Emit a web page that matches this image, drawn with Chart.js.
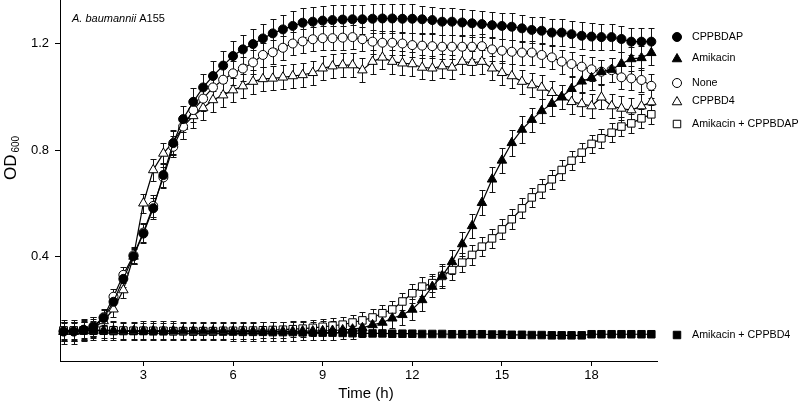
<!DOCTYPE html>
<html>
<head>
<meta charset="utf-8">
<script src="https://cdn.jsdelivr.net/npm/chart.js@4/dist/chart.umd.min.js"></script>
<style>
  html, body { margin: 0; padding: 0; background: #fff; }
</style>
</head>
<body>
<canvas id="chart" width="800" height="403"></canvas>
<script>
// sampling times (h), every 20 min
const time = [0.33,0.67,1,1.33,1.67,2,2.33,2.67,3,3.33,3.67,4,4.33,4.67,5,5.33,5.67,6,6.33,6.67,
  7,7.33,7.67,8,8.33,8.67,9,9.33,9.67,10,10.33,10.67,11,11.33,11.67,12,12.33,12.67,13,13.33,
  13.67,14,14.33,14.67,15,15.33,15.67,16,16.33,16.67,17,17.33,17.67,18,18.33,18.67,19,19.33,19.67,20];

const xTicks = [3, 6, 9, 12, 15, 18];
const yTicks = [0.4, 0.8, 1.2];

const cppbdap = [0.118,0.118,0.124,0.136,0.169,0.230,0.316,0.401,0.486,0.581,
  0.706,0.826,0.916,0.981,1.035,1.078,1.117,1.153,1.178,1.198,
  1.219,1.238,1.253,1.266,1.278,1.282,1.286,1.288,1.290,1.291,
  1.291,1.293,1.294,1.294,1.293,1.293,1.291,1.288,1.282,1.282,
  1.279,1.276,1.273,1.269,1.266,1.263,1.257,1.251,1.248,1.241,
  1.241,1.235,1.229,1.226,1.224,1.224,1.217,1.207,1.207,1.207];
const cppbdapErr = [0.045,0.045,0.040,0.035,0.030,0.030,0.030,0.030,0.035,0.040,
  0.045,0.045,0.050,0.050,0.050,0.055,0.055,0.055,0.055,0.055,
  0.055,0.055,0.055,0.055,0.055,0.055,0.055,0.055,0.055,0.055,
  0.055,0.055,0.055,0.055,0.055,0.055,0.050,0.050,0.050,0.050,
  0.050,0.050,0.050,0.050,0.050,0.050,0.050,0.050,0.050,0.050,
  0.050,0.050,0.050,0.050,0.050,0.050,0.050,0.050,0.050,0.050];

const amikacin = [0.118,0.118,0.120,0.122,0.122,0.122,0.120,0.120,0.121,0.121,
  0.121,0.121,0.120,0.120,0.120,0.120,0.120,0.119,0.119,0.119,
  0.119,0.119,0.119,0.119,0.120,0.120,0.121,0.122,0.124,0.127,
  0.132,0.143,0.152,0.168,0.181,0.201,0.237,0.287,0.327,0.380,
  0.447,0.515,0.602,0.690,0.761,0.827,0.877,0.914,0.947,0.974,
  1.000,1.030,1.058,1.071,1.094,1.102,1.124,1.142,1.146,1.165];
const amikacinErr = [0.035,0.035,0.035,0.035,0.035,0.035,0.035,0.035,0.035,0.035,
  0.035,0.035,0.035,0.035,0.035,0.035,0.035,0.035,0.035,0.035,
  0.035,0.035,0.035,0.035,0.035,0.035,0.035,0.035,0.035,0.035,
  0.035,0.035,0.035,0.035,0.040,0.040,0.040,0.040,0.045,0.045,
  0.045,0.045,0.048,0.048,0.048,0.050,0.050,0.045,0.045,0.045,
  0.045,0.045,0.045,0.045,0.045,0.045,0.045,0.045,0.045,0.045];

const none = [0.120,0.120,0.125,0.138,0.172,0.249,0.331,0.405,0.490,0.590,
  0.697,0.812,0.888,0.950,0.993,1.035,1.064,1.088,1.106,1.129,
  1.157,1.167,1.184,1.200,1.208,1.216,1.220,1.220,1.222,1.224,
  1.216,1.207,1.203,1.203,1.200,1.194,1.192,1.190,1.188,1.188,
  1.188,1.188,1.190,1.178,1.173,1.169,1.166,1.166,1.157,1.148,
  1.132,1.123,1.113,1.103,1.094,1.100,1.073,1.069,1.063,1.041];
const noneErr = [0.035,0.035,0.035,0.035,0.030,0.030,0.030,0.030,0.035,0.040,
  0.040,0.040,0.045,0.045,0.045,0.045,0.045,0.045,0.045,0.045,
  0.045,0.045,0.045,0.045,0.045,0.045,0.045,0.045,0.045,0.045,
  0.045,0.045,0.045,0.045,0.045,0.045,0.045,0.045,0.045,0.045,
  0.045,0.045,0.045,0.045,0.045,0.045,0.045,0.045,0.045,0.045,
  0.045,0.045,0.045,0.045,0.045,0.045,0.045,0.045,0.045,0.045];

const cppbd4 = [0.118,0.118,0.122,0.132,0.158,0.202,0.274,0.400,0.600,0.725,
  0.787,0.830,0.888,0.928,0.958,0.988,1.006,1.025,1.040,1.057,
  1.067,1.069,1.073,1.078,1.082,1.090,1.107,1.115,1.119,1.119,
  1.100,1.132,1.148,1.132,1.126,1.123,1.110,1.107,1.115,1.110,
  1.132,1.128,1.132,1.107,1.090,1.078,1.057,1.044,1.035,1.015,
  0.998,0.981,0.973,0.965,0.998,0.965,0.956,0.950,0.965,0.980];
const cppbd4Err = [0.035,0.035,0.035,0.035,0.030,0.030,0.030,0.030,0.035,0.040,
  0.040,0.045,0.045,0.045,0.045,0.045,0.045,0.045,0.045,0.045,
  0.045,0.045,0.045,0.045,0.045,0.045,0.045,0.045,0.045,0.045,
  0.045,0.045,0.045,0.045,0.045,0.045,0.045,0.045,0.045,0.045,
  0.045,0.045,0.045,0.045,0.045,0.045,0.045,0.045,0.045,0.045,
  0.045,0.045,0.045,0.045,0.045,0.045,0.045,0.045,0.045,0.045];

const amikCppbdap = [0.122,0.122,0.123,0.124,0.124,0.123,0.122,0.121,0.121,0.121,
  0.121,0.120,0.120,0.120,0.120,0.120,0.121,0.121,0.122,0.122,
  0.123,0.124,0.125,0.127,0.129,0.132,0.136,0.140,0.144,0.152,
  0.160,0.171,0.187,0.201,0.231,0.262,0.287,0.300,0.327,0.349,
  0.377,0.406,0.437,0.468,0.502,0.540,0.581,0.622,0.656,0.690,
  0.725,0.760,0.790,0.823,0.844,0.865,0.888,0.900,0.919,0.934];
const amikCppbdapErr = [0.030,0.030,0.030,0.030,0.030,0.030,0.030,0.030,0.030,0.030,
  0.030,0.030,0.030,0.030,0.030,0.030,0.030,0.030,0.030,0.030,
  0.030,0.030,0.030,0.030,0.030,0.030,0.030,0.030,0.030,0.030,
  0.030,0.030,0.030,0.032,0.032,0.035,0.035,0.035,0.037,0.037,
  0.037,0.037,0.037,0.037,0.037,0.037,0.037,0.037,0.036,0.036,
  0.036,0.036,0.035,0.035,0.035,0.035,0.035,0.035,0.035,0.035];

const amikCppbd4 = [0.122,0.122,0.122,0.121,0.121,0.120,0.120,0.120,0.120,0.119,
  0.119,0.119,0.119,0.118,0.118,0.118,0.118,0.118,0.117,0.117,
  0.117,0.116,0.116,0.116,0.115,0.115,0.114,0.114,0.113,0.112,
  0.111,0.111,0.111,0.110,0.110,0.110,0.109,0.109,0.109,0.108,
  0.108,0.108,0.108,0.107,0.107,0.106,0.106,0.105,0.105,0.104,
  0.104,0.104,0.104,0.108,0.108,0.108,0.108,0.108,0.108,0.108];
const amikCppbd4Err = [0.004,0.004,0.004,0.004,0.004,0.004,0.004,0.004,0.004,0.004,
  0.004,0.004,0.004,0.004,0.004,0.004,0.004,0.004,0.004,0.004,
  0.004,0.004,0.004,0.004,0.004,0.004,0.004,0.004,0.004,0.004,
  0.004,0.004,0.004,0.004,0.004,0.004,0.004,0.004,0.004,0.004,
  0.004,0.004,0.004,0.004,0.004,0.004,0.004,0.004,0.004,0.004,
  0.004,0.004,0.004,0.004,0.004,0.004,0.004,0.004,0.004,0.004];

// label y positions (px) of the right-hand key, next to each curve end
const series = [
  { label: 'CPPBDAP', values: cppbdap, err: cppbdapErr, style: 'circle', filled: true, r: 4.5, keyY: 37 },
  { label: 'Amikacin', values: amikacin, err: amikacinErr, style: 'triangle', filled: true, r: 5.5, keyY: 58 },
  { label: 'None', values: none, err: noneErr, style: 'circle', filled: false, r: 4.5, keyY: 83 },
  { label: 'CPPBD4', values: cppbd4, err: cppbd4Err, style: 'triangle', filled: false, r: 5.5, keyY: 101 },
  { label: 'Amikacin + CPPBDAP', values: amikCppbdap, err: amikCppbdapErr, style: 'rect', filled: false, r: 5.3, keyY: 124 },
  { label: 'Amikacin + CPPBD4', values: amikCppbd4, err: amikCppbd4Err, style: 'rect', filled: true, r: 5.3, keyY: 335 }
];

const FONT = 'Liberation Sans, Arial, sans-serif';

const errorBars = {
  id: 'errorBars',
  beforeDatasetsDraw(chart) {
    const { ctx, scales: { x, y } } = chart;
    ctx.save();
    ctx.strokeStyle = '#111';
    ctx.lineWidth = 1;
    series.forEach(s => {
      s.values.forEach((v, i) => {
        const px = Math.round(x.getPixelForValue(time[i])) + 0.5;
        const top = Math.round(y.getPixelForValue(v + s.err[i])) + 0.5;
        const bot = Math.round(y.getPixelForValue(v - s.err[i])) + 0.5;
        ctx.beginPath();
        ctx.moveTo(px, top); ctx.lineTo(px, bot);
        ctx.moveTo(px - 3, top); ctx.lineTo(px + 3, top);
        ctx.moveTo(px - 3, bot); ctx.lineTo(px + 3, bot);
        ctx.stroke();
      });
    });
    ctx.restore();
  }
};

const labels = {
  id: 'labels',
  afterDraw(chart) {
    const { ctx } = chart;
    ctx.save();
    ctx.fillStyle = '#000';
    ctx.textBaseline = 'alphabetic';

    // panel title
    ctx.font = 'italic 11px ' + FONT;
    ctx.fillText('A. baumannii', 72, 22);
    const w = ctx.measureText('A. baumannii ').width;
    ctx.font = '11px ' + FONT;
    ctx.fillText('A155', 72 + w, 22);

    // x title
    ctx.font = '15px ' + FONT;
    ctx.textAlign = 'center';
    ctx.fillText('Time (h)', 366, 398);

    // y title with subscript
    ctx.save();
    ctx.translate(16, 180);
    ctx.rotate(-Math.PI / 2);
    ctx.textAlign = 'left';
    ctx.font = '17px ' + FONT;
    ctx.fillText('OD', 0, 0);
    const odW = ctx.measureText('OD').width;
    ctx.font = '10px ' + FONT;
    ctx.fillText('600', odW + 2, 3);
    ctx.restore();

    // key
    ctx.textAlign = 'left';
    ctx.textBaseline = 'middle';
    ctx.font = '10.7px ' + FONT;
    series.forEach(s => {
      ctx.fillStyle = s.filled ? '#000' : '#fff';
      ctx.strokeStyle = '#000';
      ctx.lineWidth = 1;
      Chart.helpers.drawPoint(ctx, { pointStyle: s.style, radius: s.r, rotation: 0, borderWidth: 1 }, 677, s.keyY + (s.style === 'triangle' ? 1 : 0));
      ctx.fillStyle = '#000';
      ctx.fillText(s.label, 692, s.keyY);
    });
    ctx.restore();
  }
};

new Chart(document.getElementById('chart'), {
  type: 'line',
  data: {
    datasets: series.map((s, k) => ({
      label: s.label,
      data: s.values.map((v, i) => ({ x: time[i], y: v })),
      borderColor: '#000',
      borderWidth: 1.2,
      tension: 0,
      fill: false,
      pointStyle: s.style,
      pointRadius: s.r,
      pointBackgroundColor: s.filled ? '#000' : '#fff',
      pointBorderColor: '#000',
      pointBorderWidth: 1,
      clip: false,
      order: [1, 0, 3, 4, 2, 5][k]
    }))
  },
  options: {
    responsive: false,
    animation: false,
    devicePixelRatio: 1,
    layout: { autoPadding: false, padding: { left: 0, top: 0, right: 143, bottom: 0 } },
    plugins: { legend: { display: false }, tooltip: { enabled: false } },
    scales: {
      x: {
        type: 'linear',
        min: 0.21,
        max: 20.19,
        afterBuildTicks: s => { s.ticks = xTicks.map(v => ({ value: v })); },
        afterFit: s => { s.height = 42; s.paddingLeft = 0; s.paddingRight = 0; },
        grid: { drawOnChartArea: false, drawTicks: true, tickLength: 5, color: '#000' },
        border: { color: '#000', width: 1 },
        ticks: { color: '#000', font: { family: FONT, size: 13 }, padding: 2, maxRotation: 0 }
      },
      y: {
        min: 0.0075,
        max: 1.3634,
        afterBuildTicks: s => { s.ticks = yTicks.map(v => ({ value: v })); },
        afterFit: s => { s.width = 60; s.paddingTop = 0; s.paddingBottom = 0; },
        grid: { drawOnChartArea: false, drawTicks: true, tickLength: 5, color: '#000' },
        border: { color: '#000', width: 1 },
        ticks: { color: '#000', font: { family: FONT, size: 13 }, padding: 6, callback: v => v.toFixed(1) }
      }
    }
  },
  plugins: [errorBars, labels]
});
</script>
</body>
</html>
